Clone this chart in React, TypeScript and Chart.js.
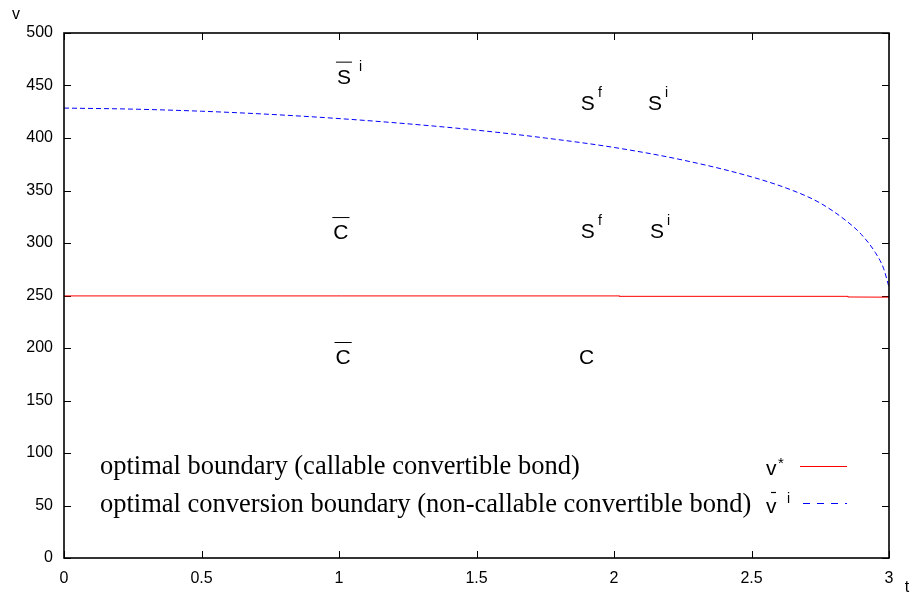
import React, { useEffect, useRef } from "react";
import { Chart, registerables } from "chart.js";

Chart.register(...registerables);

// Optimal conversion boundary (non-callable convertible bond), v-bar^i
const convT = [0, 0.25, 0.5, 0.75, 1, 1.25, 1.5, 1.75, 2, 2.25, 2.5, 2.65, 2.75, 2.85, 2.9, 2.95, 2.98, 3];
const convV = [428.5, 427.5, 425.5, 422.5, 418.5, 413.5, 407.5, 400, 391, 379, 363, 350, 338, 320, 308, 291, 276, 258];

// Optimal boundary (callable convertible bond), v*
const callT = [0, 2.02, 2.02, 2.85, 2.85, 3];
const callV = [249.6, 249.6, 249.2, 249.2, 248.6, 248.4];

const xTicksMin = 0;
const xTicksMax = 3;
const xStep = 0.5;
const yMin = 0;
const yMax = 500;
const yStep = 50;

const legendLabels = [
  "optimal boundary (callable convertible bond)",
  "optimal conversion boundary (non-callable convertible bond)",
];

// region annotations: [t, v, main letter, superscript, overbar]
const regionLabels: [number, number, string, string, boolean][] = [
  [1.018, 457, "S", "i", true],
  [1.905, 432, "S", "f", false],
  [2.149, 432, "S", "i", false],
  [1.007, 309, "C", "", true],
  [1.905, 310, "S", "f", false],
  [2.156, 310, "S", "i", false],
  [1.015, 190, "C", "", true],
  [1.9, 190, "C", "", false],
];

const SANS = "'Liberation Sans', Arial, sans-serif";
const SERIF = "'Liberation Serif', 'Times New Roman', serif";

const line = (ctx: any, x1: number, y1: number, x2: number, y2: number) => {
  ctx.beginPath();
  ctx.moveTo(x1, y1);
  ctx.lineTo(x2, y2);
  ctx.stroke();
};

const decorPlugin = {
  id: "decor",
  beforeDatasetsDraw(chart: any) {
    const { ctx, chartArea, scales } = chart;
    const { left, right, top, bottom } = chartArea;
    const x = scales.x;
    const y = scales.y;
    ctx.save();
    ctx.strokeStyle = "#000";
    ctx.lineWidth = 1;
    x.ticks.forEach((tk: any) => {
      const px = Math.round(x.getPixelForValue(tk.value)) + 0.5;
      line(ctx, px, bottom, px, bottom - 7);
      line(ctx, px, top, px, top + 7);
    });
    y.ticks.forEach((tk: any) => {
      const py = Math.round(y.getPixelForValue(tk.value)) + 0.5;
      line(ctx, left, py, left + 7, py);
      line(ctx, right, py, right - 7, py);
    });
    ctx.restore();
  },
  afterDatasetsDraw(chart: any) {
    const { ctx, chartArea, scales } = chart;
    const { left, right, top, bottom } = chartArea;
    const x = scales.x;
    const y = scales.y;
    ctx.save();
    ctx.strokeStyle = "#000";
    // frame
    ctx.lineWidth = 1.6;
    ctx.strokeRect(left, top, right - left, bottom - top);

    // axis titles
    ctx.fillStyle = "#000";
    ctx.font = `16px ${SANS}`;
    ctx.textAlign = "center";
    ctx.textBaseline = "middle";
    ctx.fillText("v", 16, 15);
    ctx.fillText("t", 907, 588);

    // region labels
    regionLabels.forEach(([t, v, m, sup, bar]) => {
      const px = x.getPixelForValue(t);
      const py = y.getPixelForValue(v);
      ctx.font = `21px ${SANS}`;
      ctx.textAlign = "center";
      ctx.textBaseline = "middle";
      ctx.fillText(m, px, py);
      const w = ctx.measureText(m).width;
      ctx.lineWidth = 1;
      if (bar) {
        line(ctx, px - w / 2 - 1, py - 16, px + w / 2 + 1, py - 16);
      }
      if (sup) {
        ctx.font = `14px ${SANS}`;
        ctx.textAlign = "left";
        ctx.fillText(sup, px + w / 2 + (bar ? 8 : 3), py - 11);
      }
    });

    // legend
    ctx.font = `26.5px ${SERIF}`;
    ctx.textAlign = "left";
    ctx.textBaseline = "middle";
    ctx.fillText(legendLabels[0], 100, 467);
    ctx.fillText(legendLabels[1], 100, 505);

    ctx.font = `21px ${SANS}`;
    ctx.fillText("v", 766, 469);
    ctx.font = `15px ${SANS}`;
    ctx.fillText("*", 778, 464);
    ctx.font = `21px ${SANS}`;
    ctx.fillText("v", 766, 507);
    ctx.lineWidth = 1.2;
    line(ctx, 771, 492.5, 776, 492.5);
    ctx.font = `14px ${SANS}`;
    ctx.fillText("i", 787, 499);

    ctx.strokeStyle = "#ff0000";
    ctx.lineWidth = 1;
    line(ctx, 800, 466.5, 847, 466.5);
    ctx.strokeStyle = "#0000ff";
    ctx.setLineDash([7, 7]);
    line(ctx, 803, 503.5, 847, 503.5);
    ctx.setLineDash([]);
    ctx.restore();
  },
};

export default function App() {
  const ref = useRef<HTMLCanvasElement | null>(null);
  useEffect(() => {
    document.body.style.margin = "0";
    const canvas = ref.current;
    if (!canvas) return;
    const chart = new Chart(canvas, {
      type: "scatter",
      data: {
        datasets: [
          {
            label: "v*",
            data: callT.map((t, i) => ({ x: t, y: callV[i] })),
            showLine: true,
            borderColor: "#ff0000",
            borderWidth: 1,
            pointRadius: 0,
            tension: 0,
          },
          {
            label: "v-bar i",
            data: convT.map((t, i) => ({ x: t, y: convV[i] })),
            showLine: true,
            borderColor: "#0000ff",
            borderWidth: 1,
            borderDash: [5, 3],
            pointRadius: 0,
            cubicInterpolationMode: "monotone",
          },
        ],
      },
      options: {
        responsive: false,
        animation: false,
        layout: { padding: { left: 0, top: 33, right: 26, bottom: 0 } },
        plugins: { legend: { display: false }, tooltip: { enabled: false } },
        scales: {
          x: {
            type: "linear",
            min: xTicksMin,
            max: xTicksMax,
            grid: { display: false, drawTicks: false },
            border: { display: false },
            ticks: {
              stepSize: xStep,
              padding: 11,
              color: "#000",
              font: { family: SANS, size: 16 },
              maxRotation: 0,
              callback: (v: any) => String(Number(v)),
            },
            afterFit: (s: any) => {
              s.height = 41;
            },
          },
          y: {
            type: "linear",
            min: yMin,
            max: yMax,
            grid: { display: false, drawTicks: false },
            border: { display: false },
            ticks: {
              stepSize: yStep,
              padding: 11,
              color: "#000",
              font: { family: SANS, size: 16 },
            },
            afterFit: (s: any) => {
              s.width = 64;
            },
          },
        },
      },
      plugins: [decorPlugin],
    } as any);
    return () => chart.destroy();
  }, []);
  return (
    <div style={{ width: 915, height: 599 }}>
      <canvas ref={ref} width={915} height={599} />
    </div>
  );
}
